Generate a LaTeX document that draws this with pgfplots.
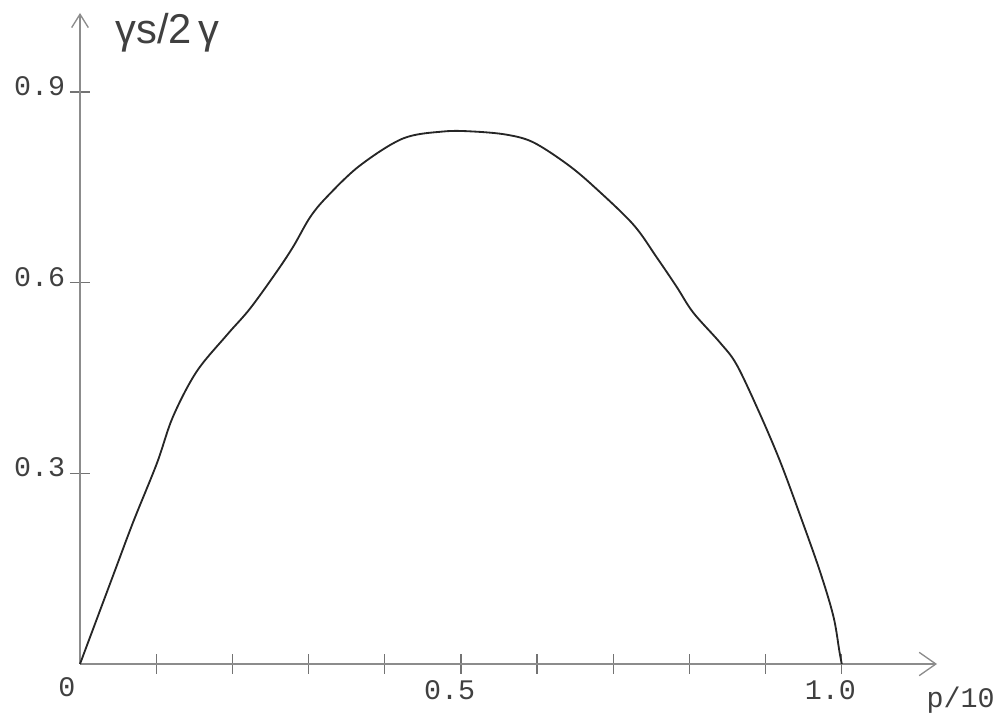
\documentclass[border=0pt]{standalone}
\usepackage{fontspec}
\setmainfont{Liberation Mono}
\newfontfamily\handfont{Liberation Sans}
\usepackage{pgfplots}
\pgfplotsset{compat=1.18}
\usetikzlibrary{arrows.meta}
\begin{document}
\begin{tikzpicture}
\begin{axis}[
  scale only axis,
  width=257.1pt, height=195.3pt,
  xmin=0, xmax=1.125, ymin=0, ymax=1.0245,
  axis lines=left,
  axis line style={black!45, line width=0.4pt},
  x axis line style={-{Straight Barb[length=5pt,width=7pt]}},
  y axis line style={-{Straight Barb[length=4pt,width=5pt]}},
  tick align=center,
  major tick length=6pt,
  tick style={black!55, line width=0.4pt},
  xtick={0.1,0.2,0.3,0.4,0.5,0.6,0.7,0.8,0.9,1.0},
  xticklabels={,,,,0.5,,,,,1.0},
  ytick={0.3,0.6,0.9},
  yticklabels={0.3,0.6,0.9},
  /pgf/number format/assume math mode=true,
  ticklabel style={font=\fontsize{8.5}{10}\selectfont, text=black!75},
  xticklabel style={anchor=north, yshift=1.7pt, xshift=-3.4pt},
  yticklabel style={anchor=east, xshift=2.1pt, yshift=1.8pt},
  clip=false,
]
\addplot[black!85, line width=0.55pt, smooth, tension=0.55] coordinates {
(0.000,0.000) (0.044,0.141) (0.070,0.224) (0.101,0.316) (0.122,0.389)
(0.153,0.460) (0.193,0.518) (0.223,0.559) (0.258,0.617) (0.280,0.657)
(0.302,0.703) (0.324,0.735) (0.367,0.784) (0.424,0.827) (0.477,0.838)
(0.516,0.838) (0.560,0.833) (0.595,0.821) (0.639,0.787) (0.674,0.752)
(0.726,0.692) (0.757,0.640) (0.783,0.594) (0.805,0.553) (0.840,0.506)
(0.862,0.471) (0.892,0.395) (0.919,0.319) (0.945,0.235) (0.971,0.147)
(0.989,0.075) (0.997,0.019) (1.000,0.000)
};
\coordinate (O) at (axis cs:0,0);
\node[anchor=north east, font=\fontsize{8.5}{10}\selectfont, text=black!75, inner sep=0pt] at ([shift={(-1.2pt,-3.8pt)}]axis cs:0,0) {0};
\node[anchor=north west, font=\fontsize{8.5}{10}\selectfont, text=black!75, inner sep=0pt] at ([shift={(-3.3pt,-6.6pt)}]axis cs:1.125,0) {p/10};
\node[anchor=west, font=\handfont\fontsize{12.5}{14}\selectfont, text=black!75, inner sep=0pt] at ([shift={(10.5pt,-6pt)}]axis cs:0,1.0245) {γs/2\,γ};
\end{axis}
\pgfresetboundingbox
\useasboundingbox ([shift={(-24pt,-14.7pt)}]O) rectangle ([shift={(275.7pt,199.2pt)}]O);
\end{tikzpicture}
\end{document}
